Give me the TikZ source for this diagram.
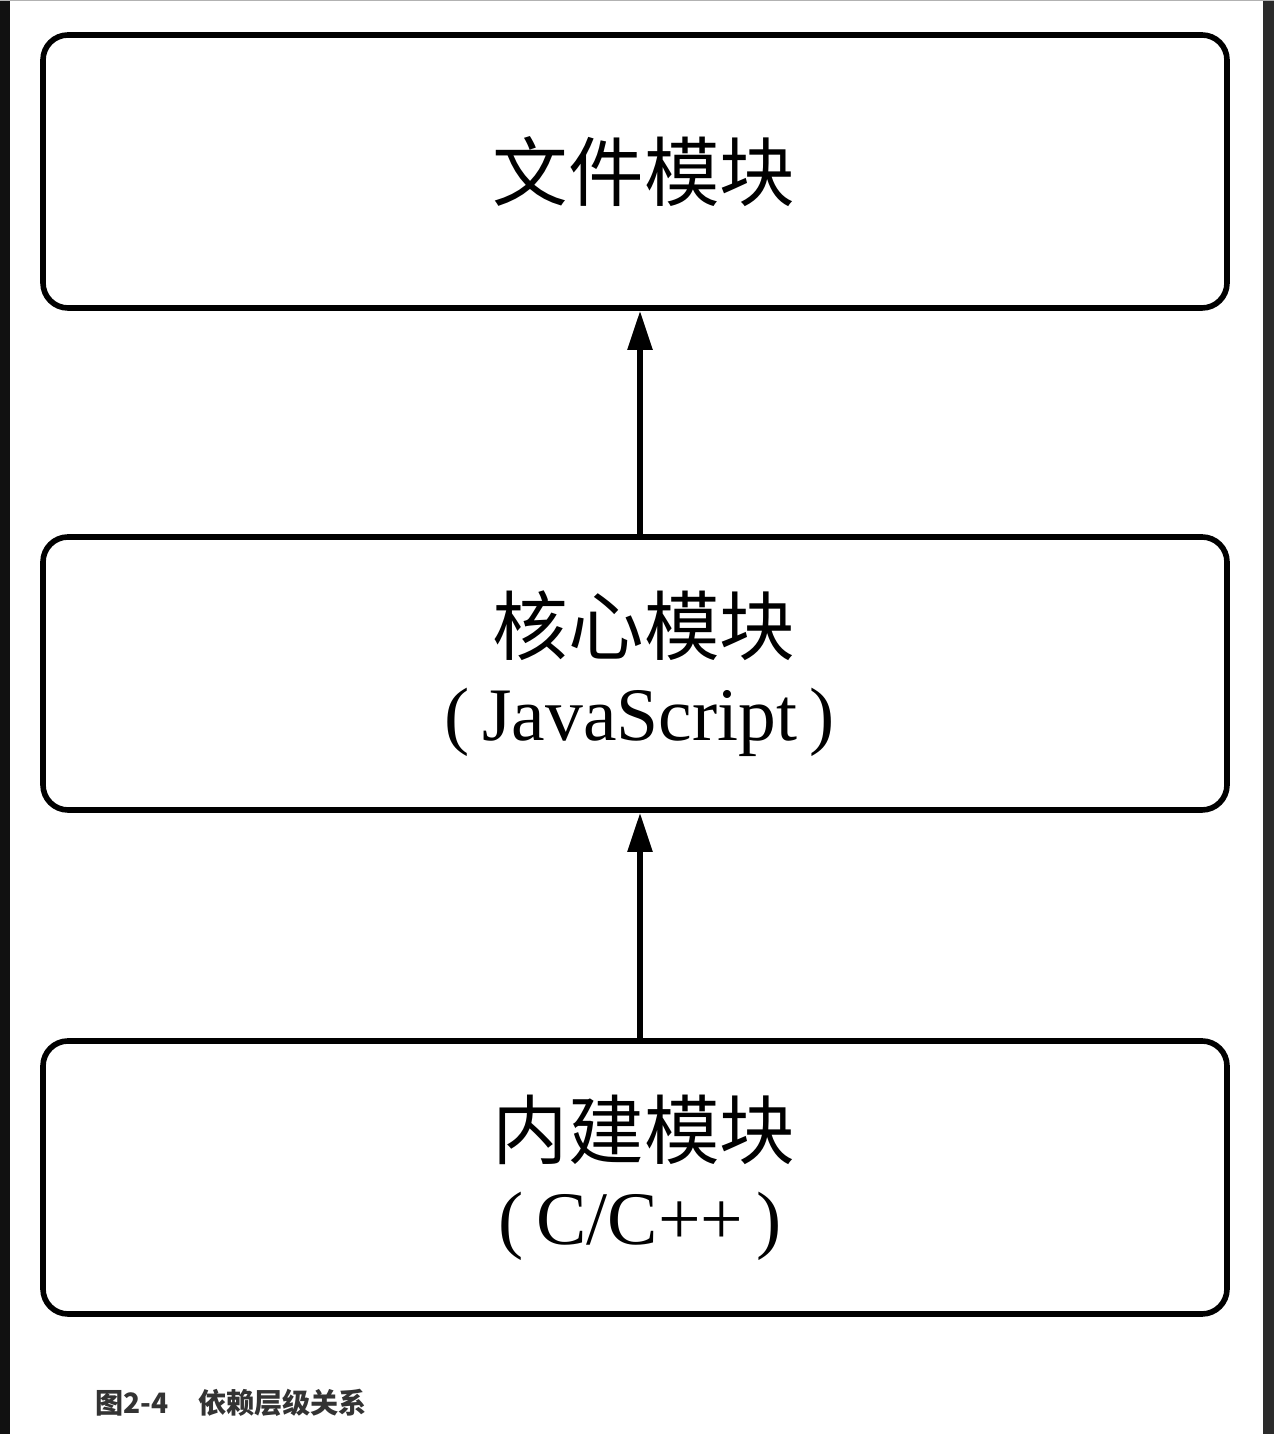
\documentclass[tikz,border=0pt]{standalone}
\usepackage{fontspec}
\setmainfont{Liberation Serif}
\newfontfamily\cjk{Noto Sans CJK SC}
\usepackage{xcolor}
\usetikzlibrary{arrows.meta,positioning}
\definecolor{edgedark}{RGB}{17,17,17}
\definecolor{edgeright}{RGB}{43,43,43}
\definecolor{captiongray}{RGB}{51,51,51}

\begin{document}
\begin{tikzpicture}[
  modbox/.style={draw=black, line width=3.2pt, rounded corners=0.5cm,
    minimum width=23.68cm, minimum height=5.46cm, align=center,
    font=\fontsize{43}{49}\selectfont},
  dep/.style={line width=3.2pt, -{Triangle[length=0.78cm,width=0.48cm]}}
]
\useasboundingbox (0,0) rectangle (25.48,28.68);
\fill[white] (0,0) rectangle (25.48,28.68);
% screen edges
\fill[edgedark] (0,0) rectangle (0.2,28.68);
\fill[edgeright] (25.26,0) rectangle (25.48,28.68);
\fill[gray!60] (0,28.65) rectangle (25.48,28.68);

\node[modbox] (filemod) at (12.7,25.25) {\hspace*{0.36cm}{\cjk 文件模块}};
\node[modbox] (coremod) at (12.7,15.21) {\hspace*{0.36cm}{\cjk 核心模块}\\\hspace*{0.2cm}(\,JavaScript\,)};
\node[modbox] (builtinmod) at (12.7,5.13) {\hspace*{0.36cm}{\cjk 内建模块}\\\hspace*{0.2cm}(\,C/C++\,)};

\draw[dep] ([xshift=0.1cm]coremod.north) -- ([xshift=0.1cm]filemod.south);
\draw[dep] ([xshift=0.1cm]builtinmod.north) -- ([xshift=0.1cm]coremod.south);

\node[anchor=west, text=captiongray, font=\cjk\bfseries\fontsize{16}{19}\selectfont]
  (caption) at (1.78,0.62) {图2-4\hspace{0.6cm}依赖层级关系};
\end{tikzpicture}
\end{document}
